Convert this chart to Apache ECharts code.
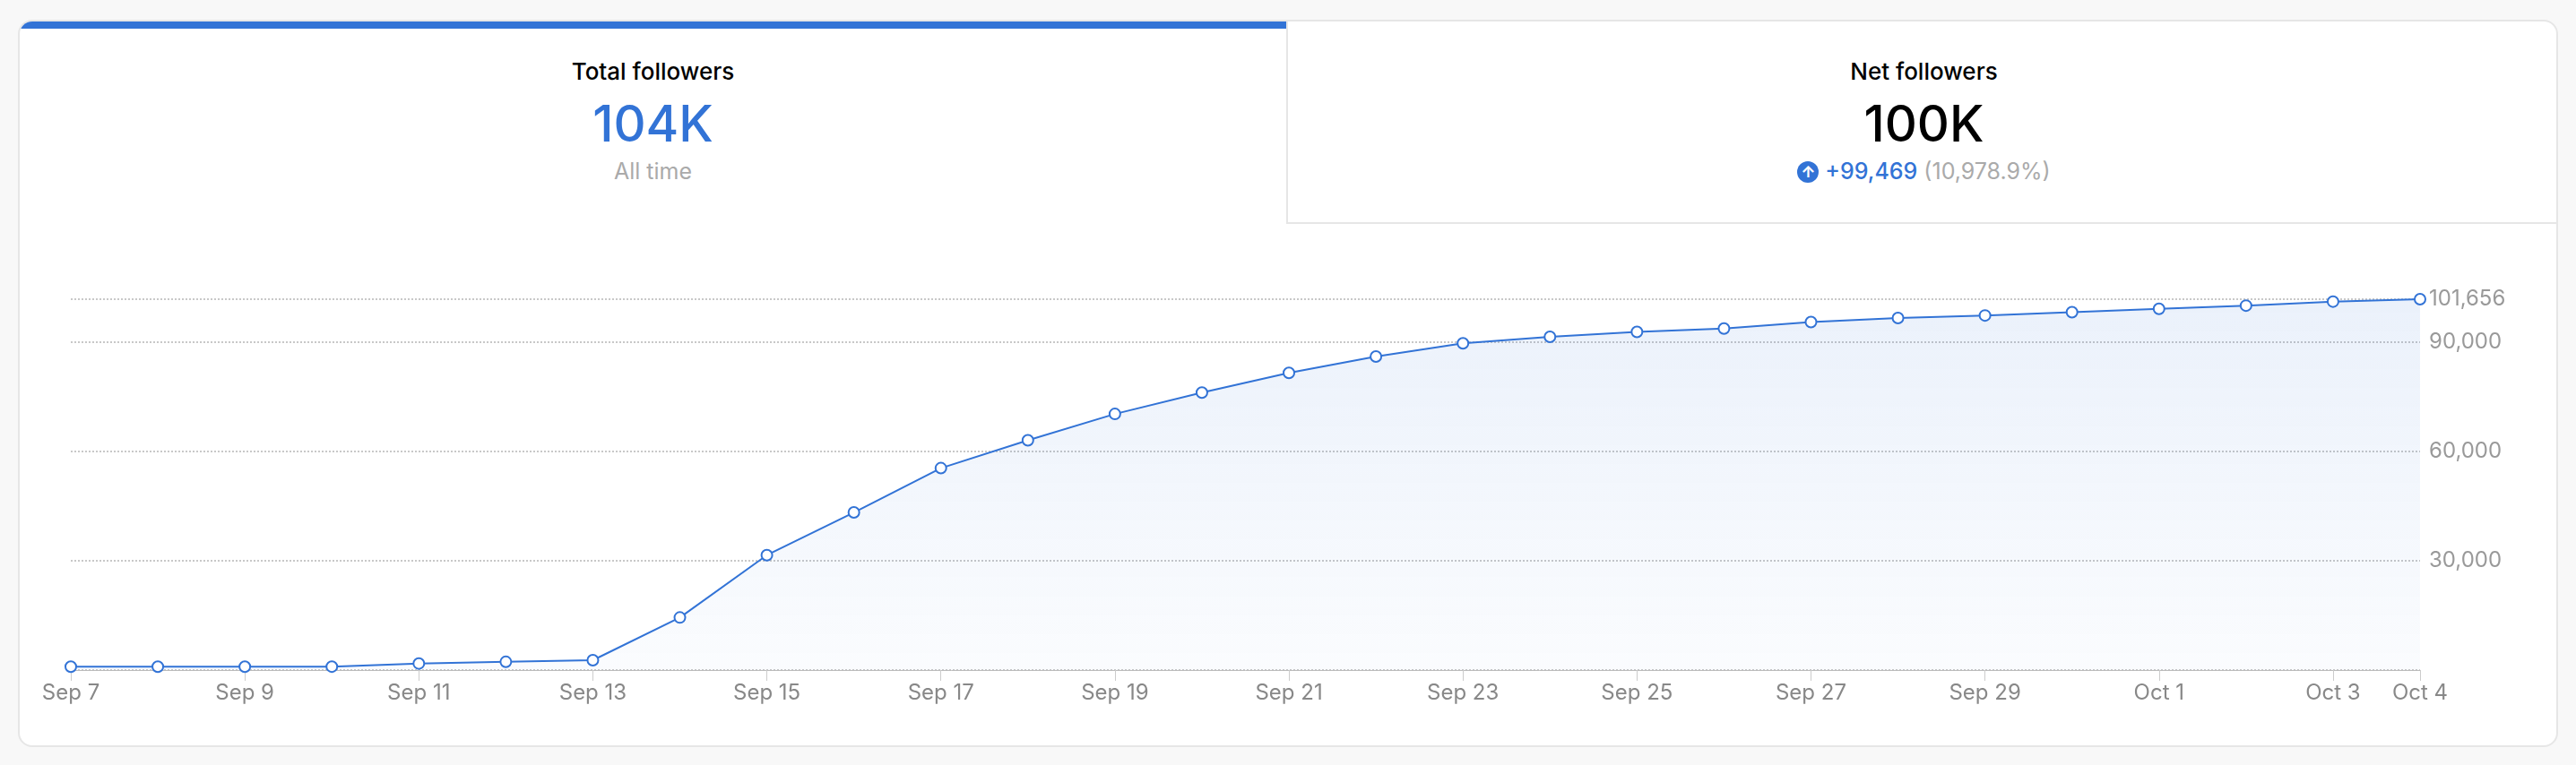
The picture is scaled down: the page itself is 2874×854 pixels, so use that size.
<!DOCTYPE html>
<html>
<head>
<meta charset="utf-8">
<script src="https://cdn.jsdelivr.net/npm/echarts@6/dist/echarts.min.js"></script>
<style>
html,body{margin:0;padding:0;background:#f8f8f8;font-family:Inter,"Noto Sans",sans-serif;}
#card{position:absolute;left:20px;top:22px;width:2834px;height:812px;background:#fff;border:2px solid #e6e6e6;border-radius:16px;box-sizing:border-box;overflow:hidden;}
#bar{position:absolute;left:0;top:0;width:1413px;height:8px;background:#3273d6;}
.tab{position:absolute;top:0;height:226px;text-align:center;}
#tab1{left:0;width:1413px;}
#tab2{left:1413px;width:1421px;border-left:2px solid #e6e6e6;border-bottom:2px solid #e6e6e6;box-sizing:border-box;}
.lbl{position:absolute;left:0;right:0;top:40px;font-size:26px;font-weight:500;color:#000;}
.big{position:absolute;left:0;right:0;top:80px;font-size:56px;font-weight:500;}
.sub{position:absolute;left:0;right:0;top:152px;font-size:25px;color:#aaa;}
#chart{position:absolute;left:0;top:0;width:2874px;height:854px;}
</style>
</head>
<body>
<div id="card">
  <div id="bar"></div>
  <div class="tab" id="tab1">
    <div class="lbl">Total followers</div>
    <div class="big" style="color:#3273d6">104K</div>
    <div class="sub">All time</div>
  </div>
  <div class="tab" id="tab2">
    <div class="lbl">Net followers</div>
    <div class="big" style="color:#000">100K</div>
    <div class="sub"><span style="display:inline-block;width:24px;height:24px;border-radius:12px;background:#3273d6;color:#fff;font-size:18px;line-height:24px;vertical-align:2px;font-weight:700">&#8593;</span> <span style="color:#3273d6;font-weight:500">+99,469</span> (10,978.9%)</div>
  </div>
</div>
<div id="chart"></div>
<script>
var dates = ['Sep 7','Sep 8','Sep 9','Sep 10','Sep 11','Sep 12','Sep 13','Sep 14','Sep 15','Sep 16','Sep 17','Sep 18','Sep 19','Sep 20',
  'Sep 21','Sep 22','Sep 23','Sep 24','Sep 25','Sep 26','Sep 27','Sep 28','Sep 29','Sep 30','Oct 1','Oct 2','Oct 3','Oct 4'];
var followers = [906,920,930,940,1800,2250,2700,14400,31500,43200,55350,63000,70200,76050,
  81450,85950,89550,91350,92700,93600,95400,96500,97200,98100,99000,99900,101000,101656];
var yMax = 101656;

var chart = echarts.init(document.getElementById('chart'));
var showIdx = function(i){ return i % 2 == 0 || i == dates.length - 1; };
chart.setOption({
    grid: {left: 79, right: 174, top: 334, bottom: 106},
    xAxis: {
        type: 'category',
        boundaryGap: false,
        data: dates,
        axisLine: {lineStyle: {color: '#bbb'}},
        axisTick: {interval: showIdx, length: 12, lineStyle: {color: '#ccc'}},
        axisLabel: {interval: showIdx, color: '#888', fontSize: 24, fontFamily: 'Inter', margin: 14}
    },
    yAxis: {
        type: 'value',
        position: 'right',
        min: 0,
        max: yMax,
        interval: 30000,
        axisLabel: {color: '#999', fontSize: 24, fontFamily: 'Inter', showMinLabel: false, showMaxLabel: true, margin: 10},
        splitLine: {lineStyle: {color: '#c8c8c8', type: 'dotted', width: 2}}
    },
    series: [{
        type: 'line',
        data: followers,
        symbol: 'circle',
        symbolSize: 12,
        itemStyle: {color: '#fff', borderColor: '#3273d6', borderWidth: 2},
        lineStyle: {color: '#3273d6', width: 2},
        areaStyle: {color: new echarts.graphic.LinearGradient(0, 0, 0, 1, [
            {offset: 0, color: 'rgba(50,115,214,0.14)'},
            {offset: 1, color: 'rgba(50,115,214,0.03)'}
        ])}
    }]
});
</script>
</body>
</html>
